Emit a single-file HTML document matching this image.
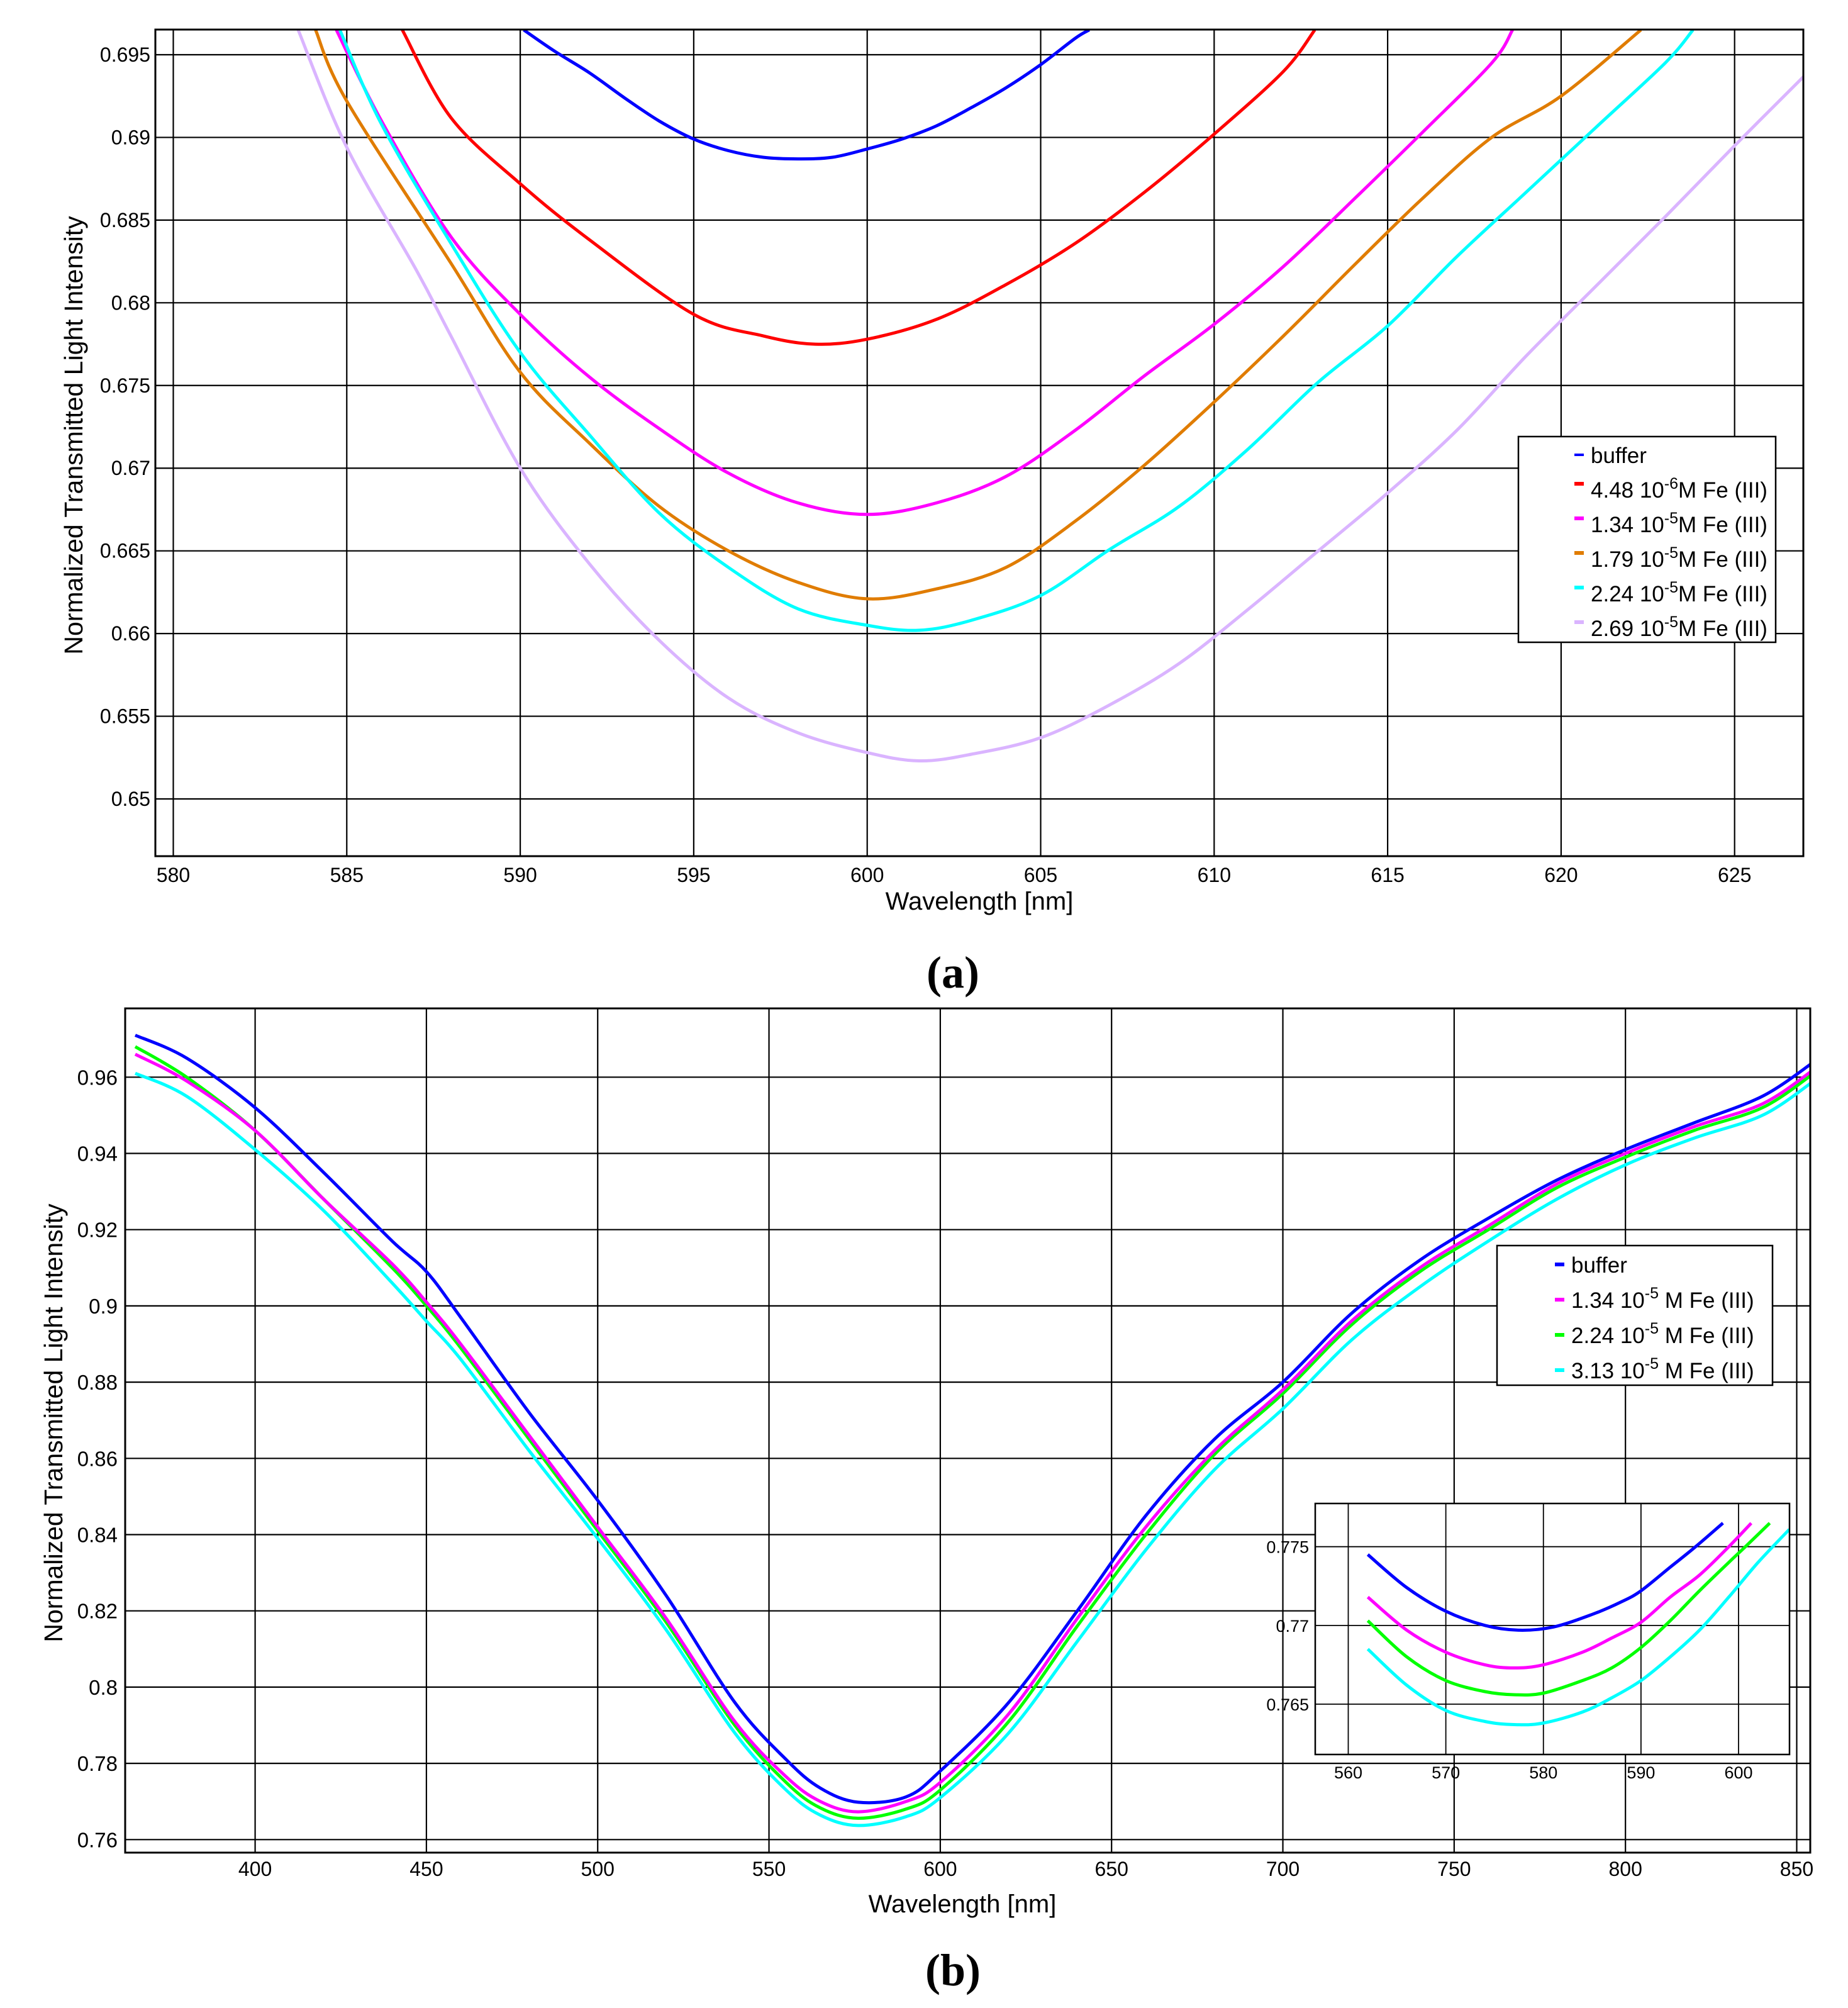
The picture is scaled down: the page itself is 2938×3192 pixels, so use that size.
<!DOCTYPE html>
<html><head><meta charset="utf-8">
<style>
html,body{margin:0;padding:0;background:#fff;}
svg{display:block;font-family:"Liberation Sans",Arial,sans-serif;}
</style></head>
<body>
<svg id="fig" width="2938" height="3192" viewBox="0 0 2938 3192" xmlns="http://www.w3.org/2000/svg">
<rect width="2938" height="3192" fill="#fff"/>
<g id="chartA"></g>
<g id="chartB"></g>
<g id="inset"></g>
<text x="1515" y="1570" font-family="Liberation Serif,serif" font-weight="bold" font-size="72" text-anchor="middle">(a)</text>
<text x="1515" y="3156" font-family="Liberation Serif,serif" font-weight="bold" font-size="72" text-anchor="middle">(b)</text>
</svg>
<script>
// ---------- Chart A data ----------
const aXTicks = [580,585,590,595,600,605,610,615,620,625];
const aYTicks = [0.65,0.655,0.66,0.665,0.67,0.675,0.68,0.685,0.69,0.695];
const aYTickLabels = ["0.65","0.655","0.66","0.665","0.67","0.675","0.68","0.685","0.69","0.695"];
const aBufferX = [590.1,591,592,593,594,595,596,597,598,599,600,601,602,603,604,605,606,606.4];
const aBufferY = [0.6965,0.6952,0.6939,0.6924,0.6910,0.6899,0.6892,0.6888,0.6887,0.6888,0.6893,0.6899,0.6907,0.6918,0.6930,0.6944,0.6960,0.6965];
const aFe448X = [586.6,588,590,592,595,597,598.5,600,602,604,606,608,610,612,612.9];
const aFe448Y = [0.6965,0.6912,0.6872,0.6838,0.6793,0.6780,0.6775,0.6778,0.6790,0.6811,0.6836,0.6867,0.6902,0.6940,0.6965];
const aFe134X = [584.7,586,588,590,592,594,596,598,600,602,604,606,608,610,612,614,616,618,618.6];
const aFe134Y = [0.6965,0.6910,0.6840,0.6793,0.6755,0.6724,0.6697,0.6679,0.6672,0.6679,0.6695,0.6723,0.6756,0.6787,0.6822,0.6862,0.6903,0.6945,0.6965];
const aFe179X = [584.1,585,588,590,592,594,596,598,600,602,604,606,608,610,612,614,616,618,620,622.3];
const aFe179Y = [0.6965,0.6922,0.6824,0.6758,0.6715,0.6677,0.6650,0.6631,0.6621,0.6627,0.6640,0.6668,0.6702,0.6740,0.6780,0.6822,0.6863,0.6900,0.6925,0.6965];
const aFe224X = [584.8,586,588,590,592,594,596,598,600,601.5,603,605,607,609,611,613,615,617,619,621,623,623.8];
const aFe224Y = [0.6965,0.6908,0.6836,0.6770,0.6720,0.6673,0.6640,0.6615,0.6605,0.6602,0.6608,0.6623,0.6651,0.6677,0.6712,0.6752,0.6786,0.6828,0.6867,0.6906,0.6945,0.6965];
const aFe269X = [583.6,585,587,588,590,592,594,596,598,600,601.5,603,605,607,609,611,613,615,617,619,621,623,625,627];
const aFe269Y = [0.6965,0.6894,0.6820,0.6780,0.6700,0.6642,0.6596,0.6561,0.6540,0.6528,0.6523,0.6527,0.6537,0.6557,0.6582,0.6615,0.6650,0.6685,0.6723,0.6768,0.6810,0.6852,0.6895,0.6937];
const aLegendLabels = [["buffer",""],["4.48 10","-6","M Fe (III)"],["1.34 10","-5","M Fe (III)"],["1.79 10","-5","M Fe (III)"],["2.24 10","-5","M Fe (III)"],["2.69 10","-5","M Fe (III)"]];

// ---------- Chart B data ----------
const bXTicks = [400,450,500,550,600,650,700,750,800,850];
const bYTicks = [0.76,0.78,0.8,0.82,0.84,0.86,0.88,0.9,0.92,0.94,0.96];
const bYTickLabels = ["0.76","0.78","0.8","0.82","0.84","0.86","0.88","0.9","0.92","0.94","0.96"];
const bX = [365,380,400,420,440,450,460,480,500,520,540,555,565,576,590,600,620,640,660,680,700,720,740,760,780,800,820,840,855];
const bBufferY = [0.971,0.965,0.952,0.935,0.917,0.909,0.897,0.872,0.849,0.824,0.796,0.781,0.7735,0.7698,0.7712,0.778,0.796,0.820,0.845,0.865,0.880,0.898,0.912,0.923,0.933,0.941,0.948,0.955,0.964];
const bFe134Y = [0.966,0.959,0.946,0.928,0.911,0.901,0.890,0.866,0.842,0.818,0.791,0.7765,0.7700,0.7673,0.770,0.775,0.793,0.818,0.842,0.862,0.878,0.896,0.910,0.921,0.932,0.940,0.947,0.953,0.962];
const bFe224Y = [0.968,0.960,0.946,0.928,0.910,0.900,0.889,0.865,0.841,0.817,0.790,0.7750,0.7683,0.7656,0.768,0.773,0.791,0.816,0.840,0.861,0.877,0.895,0.909,0.920,0.931,0.939,0.946,0.952,0.961];
const bFe313Y = [0.961,0.955,0.941,0.925,0.906,0.896,0.886,0.862,0.839,0.815,0.788,0.7730,0.7664,0.7637,0.766,0.771,0.788,0.812,0.836,0.857,0.873,0.891,0.905,0.917,0.928,0.937,0.944,0.950,0.959];
const bLegendLabels = [["buffer",""],["1.34 10","-5"," M Fe (III)"],["2.24 10","-5"," M Fe (III)"],["3.13 10","-5"," M Fe (III)"]];

// ---------- Inset data ----------
const iXTicks = [560,570,580,590,600];
const iYTicks = [0.765,0.77,0.775];
const iYTickLabels = ["0.765","0.77","0.775"];
const iBufferX = [562,566,570,574,577.5,581,585,588,590,593,595.6,598.4];
const iBufferY = [0.7745,0.7724,0.7709,0.7700,0.7697,0.7699,0.7707,0.7715,0.7722,0.7737,0.7750,0.7765];
const iFe134X = [562,566,570,574,577,580,584,587,590,593,596,599,601.3];
const iFe134Y = [0.7718,0.7697,0.7683,0.7675,0.7673,0.7675,0.7683,0.7692,0.7702,0.7718,0.7732,0.7750,0.7765];
const iFe224X = [562,566,570,574,577,580,584,587,590,593,596,599,600.7,603.2];
const iFe224Y = [0.7703,0.7680,0.7665,0.7658,0.7656,0.7657,0.7665,0.7673,0.7686,0.7703,0.7722,0.7740,0.7750,0.7765];
const iFe313X = [562,566,570,574,577,580,584,587,590,593,596,599,602,605.2];
const iFe313Y = [0.7685,0.7662,0.7646,0.7639,0.7637,0.7638,0.7645,0.7654,0.7665,0.7680,0.7697,0.7718,0.7740,0.7761];

const NS = "http://www.w3.org/2000/svg";
function mk(parent, tag, attrs, txt){
  const e = document.createElementNS(NS, tag);
  for (const k in attrs) e.setAttribute(k, attrs[k]);
  if (txt !== undefined) e.textContent = txt;
  parent.appendChild(e);
  return e;
}
function linScale(d0,d1,r0,r1){ return v => r0 + (v-d0)/(d1-d0)*(r1-r0); }
function pathD(xs, ys, sx, sy){
  const P = xs.map((x,i)=>[sx(x), sy(ys[i])]);
  let d = "M"+P[0][0].toFixed(1)+","+P[0][1].toFixed(1);
  for (let i=0;i<P.length-1;i++){
    const p0 = P[i-1]||P[i], p1=P[i], p2=P[i+1], p3=P[i+2]||P[i+1];
    const c1x = p1[0]+(p2[0]-p0[0])/6, c1y = p1[1]+(p2[1]-p0[1])/6;
    const c2x = p2[0]-(p3[0]-p1[0])/6, c2y = p2[1]-(p3[1]-p1[1])/6;
    d += "C"+c1x.toFixed(1)+","+c1y.toFixed(1)+" "+c2x.toFixed(1)+","+c2y.toFixed(1)+" "+p2[0].toFixed(1)+","+p2[1].toFixed(1);
  }
  return d;
}

// ===== Chart A =====
(function(){
  const g = document.getElementById("chartA");
  const L=247,R=2867,T=47,B=1361;
  const sx = linScale(580,625,275.5,2757.7);
  const sy = linScale(0.695,0.65,87,1270);
  const clip = mk(g,"clipPath",{id:"clipA"});
  mk(clip,"rect",{x:L,y:T,width:R-L,height:B-T});
  aXTicks.forEach(t=>{
    const l = mk(g,"line",{x1:sx(t),x2:sx(t),y1:T,y2:B,stroke:"#000","stroke-width":2.2});
    
    
    const tx = mk(g,"text",{x:sx(t),y:1402,"font-size":32,"text-anchor":"middle"},String(t));
    
    
  });
  aYTicks.forEach((t,i)=>{
    const l = mk(g,"line",{x1:L,x2:R,y1:sy(t),y2:sy(t),stroke:"#000","stroke-width":2.2});
    
    
    const tx = mk(g,"text",{x:239,y:sy(t)+11,"font-size":32,"text-anchor":"end"},aYTickLabels[i]);
    
    
  });
  const series = [[aBufferX,aBufferY,"#0000ff"],[aFe448X,aFe448Y,"#ff0000"],[aFe134X,aFe134Y,"#ff00ff"],[aFe179X,aFe179Y,"#e07c00"],[aFe224X,aFe224Y,"#00ffff"],[aFe269X,aFe269Y,"#dab4ff"]];
  const names = ["line-buffer","line-fe-4-48e-6","line-fe-1-34e-5","line-fe-1-79e-5","line-fe-2-24e-5","line-fe-2-69e-5"];
  const sg = mk(g,"g",{"clip-path":"url(#clipA)"});
  series.forEach((s,i)=>{
    const p = mk(sg,"path",{d:pathD(s[0],s[1],sx,sy),fill:"none",stroke:s[2],"stroke-width":5,"stroke-linejoin":"round"});
    
    
  });
  const fr = mk(g,"rect",{x:L,y:T,width:R-L,height:B-T,fill:"none",stroke:"#000","stroke-width":3});
  
  
  const xt = mk(g,"text",{x:1557,y:1446,"font-size":40,"text-anchor":"middle"},"Wavelength [nm]");
  
  
  const yt = mk(g,"text",{x:0,y:0,"font-size":41,"text-anchor":"middle",transform:"translate(131,692) rotate(-90)"},"Normalized Transmitted Light Intensity");
  
  
  const lg = mk(g,"g",{});
  
  
  mk(lg,"rect",{x:2414,y:694,width:409,height:327,fill:"#fff",stroke:"#000","stroke-width":2.5});
  aLegendLabels.forEach((lab,i)=>{
    const cy = 723 + i*55;
    const e = mk(lg,"g",{});
    
    
    mk(e,"rect",{x:2503,y:(i==0?cy-2:cy-12),width:15,height:(i==0?4:6),fill:series[i][2]});
    const t = mk(e,"text",{x:2529,y:cy+13,"font-size":35});
    mk(t,"tspan",{},lab[0]);
    if (lab[1]){ mk(t,"tspan",{dy:-14,"font-size":25},lab[1]); mk(t,"tspan",{dy:14},lab[2]); }
  });
})();

// ===== Chart B =====
(function(){
  const g = document.getElementById("chartB");
  const L=199,R=2878,T=1603,B=2945;
  const sx = linScale(400,850,405.6,2856.5);
  const sy = linScale(0.96,0.76,1712.3,2924.3);
  const clip = mk(g,"clipPath",{id:"clipB"});
  mk(clip,"rect",{x:L,y:T,width:R-L,height:B-T});
  bXTicks.forEach(t=>{
    const l = mk(g,"line",{x1:sx(t),x2:sx(t),y1:T,y2:B,stroke:"#000","stroke-width":2.2});
    
    
    const tx = mk(g,"text",{x:sx(t),y:2982,"font-size":32,"text-anchor":"middle"},String(t));
    
    
  });
  bYTicks.forEach((t,i)=>{
    const l = mk(g,"line",{x1:L,x2:R,y1:sy(t),y2:sy(t),stroke:"#000","stroke-width":2.2});
    
    
    const tx = mk(g,"text",{x:187,y:sy(t)+12,"font-size":33,"text-anchor":"end"},bYTickLabels[i]);
    
    
  });
  const series = [[bBufferY,"#0000ff"],[bFe134Y,"#ff00ff"],[bFe224Y,"#00ff00"],[bFe313Y,"#00ffff"]];
  const names = ["line-buffer","line-fe-1-34e-5","line-fe-2-24e-5","line-fe-3-13e-5"];
  const sg = mk(g,"g",{"clip-path":"url(#clipB)"});
  [3,2,1,0].forEach(i=>{
    const s = series[i];
    const p = mk(sg,"path",{d:pathD(bX,s[0],sx,sy),fill:"none",stroke:s[1],"stroke-width":5,"stroke-linejoin":"round"});
    
    
  });
  const fr = mk(g,"rect",{x:L,y:T,width:R-L,height:B-T,fill:"none",stroke:"#000","stroke-width":3});
  
  
  const xt = mk(g,"text",{x:1530,y:3040,"font-size":40,"text-anchor":"middle"},"Wavelength [nm]");
  
  
  const yt = mk(g,"text",{x:0,y:0,"font-size":41,"text-anchor":"middle",transform:"translate(99,2262) rotate(-90)"},"Normalized Transmitted Light Intensity");
  
  
  const lg = mk(g,"g",{});
  
  
  mk(lg,"rect",{x:2380,y:1980,width:438,height:222,fill:"#fff",stroke:"#000","stroke-width":2.5});
  bLegendLabels.forEach((lab,i)=>{
    const cy = 2010 + i*56;
    const e = mk(lg,"g",{});
    
    
    mk(e,"rect",{x:2472,y:cy-3,width:15,height:6,fill:series[i][1]});
    const t = mk(e,"text",{x:2498,y:cy+13,"font-size":35});
    mk(t,"tspan",{},lab[0]);
    if (lab[1]){ mk(t,"tspan",{dy:-15,"font-size":25},lab[1]); mk(t,"tspan",{dy:15},lab[2]); }
  });
})();

// ===== Inset =====
(function(){
  const g = document.getElementById("inset");
  const L=2091,R=2845,T=2390,B=2789;
  const sx = linScale(560,600,2143.5,2764);
  const sy = linScale(0.775,0.765,2458.7,2709);
  const clip = mk(g,"clipPath",{id:"clipI"});
  mk(clip,"rect",{x:L,y:T,width:R-L,height:B-T});
  mk(g,"rect",{x:L,y:T,width:R-L,height:B-T,fill:"#fff"});
  iXTicks.forEach(t=>{
    const l = mk(g,"line",{x1:sx(t),x2:sx(t),y1:T,y2:B,stroke:"#000","stroke-width":1.8});
    
    
    const tx = mk(g,"text",{x:sx(t),y:2827,"font-size":27,"text-anchor":"middle"},String(t));
    
    
  });
  iYTicks.forEach((t,i)=>{
    const l = mk(g,"line",{x1:L,x2:R,y1:sy(t),y2:sy(t),stroke:"#000","stroke-width":1.8});
    
    
    const tx = mk(g,"text",{x:2081,y:sy(t)+10,"font-size":27,"text-anchor":"end"},iYTickLabels[i]);
    
    
  });
  const series = [[iBufferX,iBufferY,"#0000ff"],[iFe134X,iFe134Y,"#ff00ff"],[iFe224X,iFe224Y,"#00ff00"],[iFe313X,iFe313Y,"#00ffff"]];
  const names = ["inset-line-buffer","inset-line-fe-1-34e-5","inset-line-fe-2-24e-5","inset-line-fe-3-13e-5"];
  const sg = mk(g,"g",{"clip-path":"url(#clipI)"});
  series.forEach((s,i)=>{
    const p = mk(sg,"path",{d:pathD(s[0],s[1],sx,sy),fill:"none",stroke:s[2],"stroke-width":5,"stroke-linejoin":"round"});
    
    
  });
  const fr = mk(g,"rect",{x:L,y:T,width:R-L,height:B-T,fill:"none",stroke:"#000","stroke-width":2.5});
  
  
})();
</script>
</body></html>
